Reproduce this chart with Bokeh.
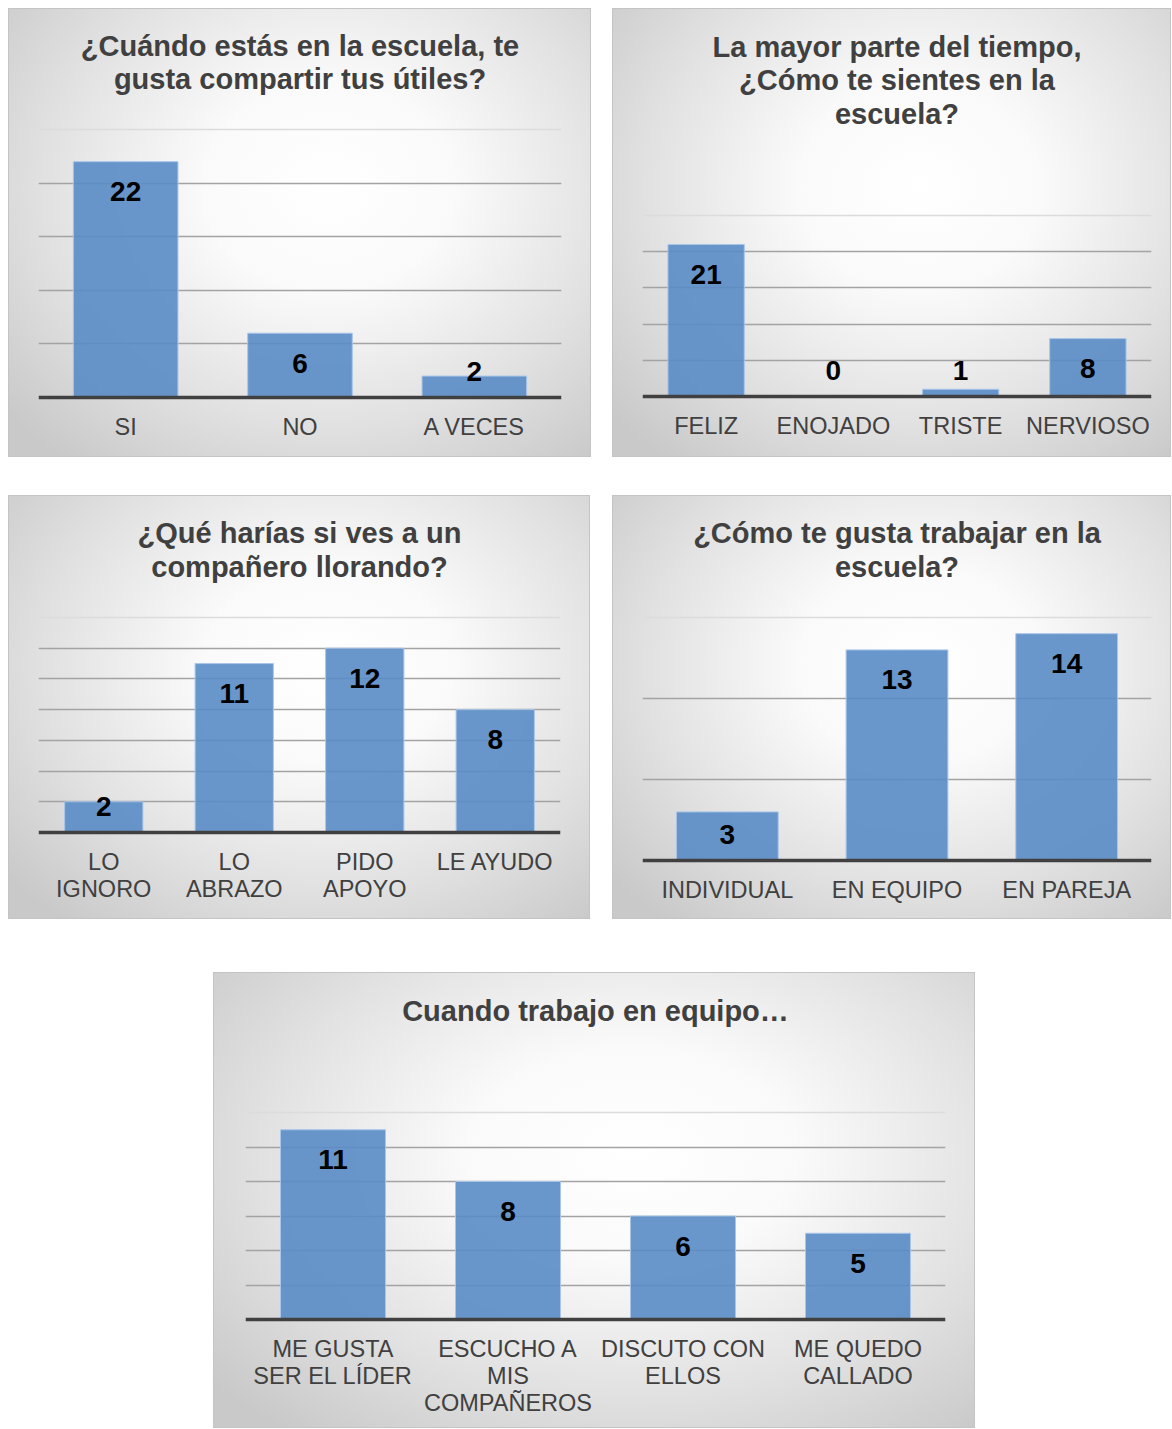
from bokeh.plotting import figure
from bokeh.models import FactorRange, Range1d, FixedTicker, Span, Label, ColumnDataSource, Spacer
from bokeh.layouts import column, row
from bokeh.core.properties import value
from bokeh.embed import file_html
from bokeh.resources import INLINE

# ---------------- data ----------------
q1_title = ["¿Cuándo estás en la escuela, te", "gusta compartir tus útiles?"]
q1_cats = ["SI", "NO", "A VECES"]
q1_vals = [22, 6, 2]

q2_title = ["La mayor parte del tiempo,", "¿Cómo te sientes en la", "escuela?"]
q2_cats = ["FELIZ", "ENOJADO", "TRISTE", "NERVIOSO"]
q2_vals = [21, 0, 1, 8]

q3_title = ["¿Qué harías si ves a un", "compañero llorando?"]
q3_cats = ["LO\nIGNORO", "LO\nABRAZO", "PIDO\nAPOYO", "LE AYUDO"]
q3_vals = [2, 11, 12, 8]

q4_title = ["¿Cómo te gusta trabajar en la", "escuela?"]
q4_cats = ["INDIVIDUAL", "EN EQUIPO", "EN PAREJA"]
q4_vals = [3, 13, 14]

q5_title = ["Cuando trabajo en equipo…"]
q5_cats = ["ME GUSTA\nSER EL LÍDER", "ESCUCHO A\nMIS\nCOMPAÑEROS", "DISCUTO CON\nELLOS", "ME QUEDO\nCALLADO"]
q5_vals = [11, 8, 6, 5]

FONT = "Liberation Sans"
BAR_FILL = "#5a8cc5"
BAR_LINE = "#a9c6ea"
BG = {
    "background": "radial-gradient(ellipse 72% 78% at 55% 40%, #ffffff 0%, #fafafa 30%, #e1e1e1 68%, #c9c9c9 100%)",
    "box-shadow": "inset 0 0 0 1px #c4c4c4",
}


def panel(title_lines, title_centers, cats, vals, ymax, step, w, h, left, right, top_px, base_px):
    # top_px / base_px: vertical pixel position (from panel top) of the top gridline and of the baseline
    ppu = (base_px - top_px) / ymax
    y0 = -(h - base_px) / ppu
    y1 = ymax + top_px / ppu
    p = figure(x_range=FactorRange(factors=cats), y_range=Range1d(y0, y1),
               width=w, height=h, output_backend="svg", toolbar_location=None,
               min_border_left=left, min_border_right=right,
               min_border_top=0, min_border_bottom=0)
    p.styles = BG
    p.background_fill_alpha = 0
    p.border_fill_alpha = 0
    p.outline_line_color = None

    frame_w = w - left - right

    p.xgrid.visible = False
    p.ygrid.ticker = FixedTicker(ticks=list(range(step, ymax, step)))
    p.ygrid.grid_line_color = "#a3a3a3"
    p.ygrid.grid_line_width = 1.3
    p.add_layout(Span(location=ymax, dimension="width", line_color="#dcdcdc", line_width=1.5))

    offsets = [min(30, v * ppu - 26) for v in vals]
    src = ColumnDataSource(dict(x=cats, top=vals, lab=[str(v) for v in vals], off=offsets))
    p.vbar(x="x", top="top", bottom=0, width=0.6, source=src, fill_color=BAR_FILL, fill_alpha=0.9,
           line_color=BAR_LINE, line_width=1)
    p.text(x="x", y="top", text="lab", y_offset="off", source=src,
           text_align="center", text_baseline="middle", text_font=value(FONT),
           text_font_style="bold", text_font_size="28px", text_color="#000000")

    p.yaxis.visible = False
    ax = p.xaxis[0]
    ax.fixed_location = 0
    ax.axis_line_color = "#404040"
    ax.axis_line_width = 3.5
    ax.major_tick_line_color = None
    ax.minor_tick_line_color = None
    ax.major_label_standoff = 10
    ax.major_label_text_font = FONT
    ax.major_label_text_font_size = "23.5px"
    ax.major_label_text_color = "#404040"
    ax.major_label_text_line_height = 1.05

    for line, cy in zip(title_lines, title_centers):
        p.add_layout(Label(x=frame_w / 2, y=h - cy, x_units="screen", y_units="screen",
                           text=line, text_align="center", text_baseline="middle",
                           text_font=FONT, text_font_style="bold", text_font_size="29px",
                           text_color="#404040"))
    return p


p1 = panel(q1_title, [37, 70], q1_cats, q1_vals, 25, 5, 583, 449, 30, 30, 121, 389)
p2 = panel(q2_title, [38, 71, 105], q2_cats, q2_vals, 25, 5, 559, 449, 30, 20, 207, 388)
p3 = panel(q3_title, [37, 71], q3_cats, q3_vals, 14, 2, 582, 424, 30, 30, 122, 337)
p4 = panel(q4_title, [37, 71], q4_cats, q4_vals, 15, 5, 559, 424, 30, 20, 122, 365)
p5 = panel(q5_title, [38], q5_cats, q5_vals, 12, 2, 762, 456, 32, 30, 140, 347)

layout = column(
    Spacer(height=8),
    row(Spacer(width=8), p1, Spacer(width=21), p2),
    Spacer(height=38),
    row(Spacer(width=8), p3, Spacer(width=22), p4),
    Spacer(height=53),
    row(Spacer(width=213), p5),
)

open("out.html", "w").write(file_html(layout, INLINE))
